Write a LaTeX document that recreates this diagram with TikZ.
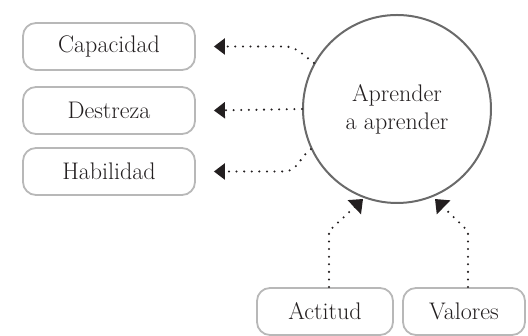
\documentclass[tikz,border=0pt]{standalone}
\usepackage{fontspec}
\usetikzlibrary{arrows.meta,calc}
\definecolor{boxgray}{HTML}{B8B8B8}
\definecolor{circgray}{HTML}{6A6A6A}
\definecolor{ink}{HTML}{231F20}
\begin{document}
\begin{tikzpicture}[x=1pt,y=1pt,
  box/.style={draw=boxgray,line width=1.8pt,rounded corners=13pt,minimum height=47pt,inner sep=0pt,text=ink,font=\fontsize{24pt}{28pt}\selectfont},
  dots/.style={draw=ink,line width=2.3pt,line cap=round,dash pattern=on 0pt off 7.6pt,-{Triangle[length=11pt,width=16pt]}},
  bigtip/.style={-{Triangle[length=12pt,width=19pt]}},
]
\useasboundingbox (0,0) rectangle (528,336);
\node[draw=circgray,line width=2pt,circle,minimum size=188pt,inner sep=0pt,align=center,text=ink,font=\fontsize{24pt}{28pt}\selectfont] (circ) at (397,227) {Aprender\\a aprender};
\node[box,minimum width=172pt] (cap) at (109,289.5) {Capacidad};
\node[box,minimum width=172pt] (des) at (109,225.5) {Destreza};
\node[box,minimum width=172pt] (hab) at (109,164.5) {Habilidad};
\node[box,minimum width=136pt] (act) at (325,24.5) {Actitud};
\node[box,minimum width=122pt] (val) at (464,24.5) {Valores};
\draw[dots] (circ.151) to[out=145,in=0] ($(cap.east)+(88,0)$) -- ($(cap.east)+(18,0)$);
\draw[dots] (circ.west) -- ($(des.east)+(18,0)$);
\draw[dots] (circ.205) to[out=215,in=0] ($(hab.east)+(88,0)$) -- ($(hab.east)+(18,0)$);
\draw[dots,bigtip] ($(act.north)+(4,0)$) -- ++(0,56) -- ($(circ.center)+(-34,-90)$);
\draw[dots,bigtip] ($(val.north)+(4,0)$) -- ++(0,56) -- ($(circ.center)+(38,-90)$);
\end{tikzpicture}
\end{document}
